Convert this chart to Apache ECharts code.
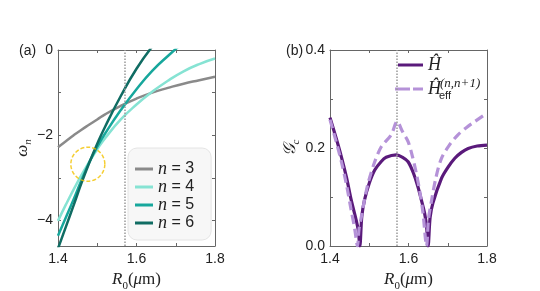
<!DOCTYPE html>
<html>
<head>
<meta charset="utf-8">
<script src="https://cdn.jsdelivr.net/npm/echarts@6/dist/echarts.min.js"></script>
<style>html,body{margin:0;padding:0;background:#fff;}#c{width:540px;height:291px;}</style>
</head>
<body>
<div id="c"></div>
<script>
// ---- data (a) ----
const R_a = [1.40, 1.42, 1.44, 1.46, 1.48, 1.50, 1.52, 1.56, 1.60, 1.64, 1.68, 1.72, 1.76, 1.80];
const w_n3 = [-2.28, -2.14, -2.00, -1.87, -1.75, -1.63, -1.51, -1.31, -1.14, -1.00, -0.89, -0.79, -0.71, -0.63];
const w_n4 = [-4.01, -3.63, -3.27, -2.93, -2.62, -2.33, -2.07, -1.63, -1.28, -0.98, -0.72, -0.50, -0.33, -0.20];
const w_n5 = [-4.36, -3.93, -3.50, -3.05, -2.63, -2.27, -1.96, -1.41, -0.92, -0.49, -0.14, 0.18, null, null];
const w_n6 = [-4.66, -4.15, -3.64, -3.12, -2.64, -2.20, -1.80, -1.08, -0.44, 0.08, null, null, null, null];
const circleCenter = [1.476, -2.68];
const R_mark = 1.57;
// ---- data (b) ----
const R_H = [1.400, 1.415, 1.429, 1.442, 1.454, 1.466, 1.472, 1.476, 1.481, 1.488, 1.500, 1.514, 1.530, 1.543, 1.569, 1.585, 1.599, 1.612, 1.624, 1.634, 1.641, 1.646, 1.650, 1.655, 1.662, 1.684, 1.700, 1.718, 1.735, 1.752, 1.775, 1.800];
const G_H = [0.262, 0.222, 0.182, 0.140, 0.094, 0.055, 0.032, 0.000, 0.060, 0.094, 0.128, 0.155, 0.172, 0.181, 0.186, 0.181, 0.172, 0.150, 0.121, 0.090, 0.067, 0.040, 0.000, 0.058, 0.087, 0.138, 0.160, 0.179, 0.191, 0.199, 0.204, 0.206];
const R_E = [1.400, 1.415, 1.429, 1.442, 1.454, 1.463, 1.470, 1.474, 1.480, 1.488, 1.497, 1.514, 1.531, 1.556, 1.571, 1.585, 1.599, 1.610, 1.620, 1.629, 1.637, 1.646, 1.651, 1.659, 1.670, 1.684, 1.705, 1.726, 1.748, 1.769, 1.800];
const G_E = [0.258, 0.215, 0.172, 0.125, 0.073, 0.035, 0.000, 0.035, 0.060, 0.095, 0.128, 0.172, 0.203, 0.227, 0.254, 0.233, 0.213, 0.183, 0.148, 0.110, 0.067, 0.000, 0.055, 0.094, 0.140, 0.179, 0.207, 0.227, 0.242, 0.254, 0.271];
const xTicksShown = [1.4, 1.6, 1.8];

function pairs(xs, ys) { const o = []; for (let i = 0; i < xs.length; i++) if (ys[i] !== null) o.push([xs[i], ys[i]]); return o; }
const minus = v => (v < 0 ? '\u2212' + Math.abs(v) : String(v));
const xFmt = v => xTicksShown.some(t => Math.abs(t - v) < 1e-6) ? v.toFixed(1) : '';
const AX = '#666';
const SANS = 'Liberation Sans, Arial, sans-serif';
const SERIF = 'Liberation Serif, DejaVu Serif, serif';
const lblStyle = { color: '#222', fontSize: 14, fontFamily: SANS };
const serifI = { fontFamily: SERIF, fontStyle: 'italic', fontSize: 17, color: '#222' };
const serifN = { fontFamily: SERIF, fontSize: 17, color: '#222' };
const subS = { fontFamily: SERIF, fontSize: 11, color: '#222', verticalAlign: 'bottom', lineHeight: 22 };

function xAx(grid, bottom) {
  return {
    type: 'value', gridIndex: grid, position: bottom ? 'bottom' : 'top', min: 1.4, max: 1.8, interval: 0.1,
    axisLine: { show: true, onZero: false, lineStyle: { color: AX, width: 1 } },
    axisTick: { show: true, inside: true, length: 3, lineStyle: { color: AX } },
    axisLabel: { show: bottom, formatter: xFmt, margin: 6, ...lblStyle },
    splitLine: { show: false },
    name: bottom ? '{i|R}{s|0}{n|(}{i|μ}{n|m)}' : '', nameLocation: 'middle', nameGap: 18,
    nameTextStyle: { rich: { i: serifI, n: serifN, s: { ...subS, lineHeight: 24 } } }
  };
}
function yAx(grid, left, min, max, opts) {
  return Object.assign({
    type: 'value', gridIndex: grid, position: left ? 'left' : 'right', min: min, max: max,
    axisLine: { show: true, onZero: false, lineStyle: { color: AX, width: 1 } },
    axisTick: { show: true, inside: true, length: 3, lineStyle: { color: AX } },
    splitLine: { show: false }
  }, opts);
}

const legendRich = {
  i: { fontFamily: SERIF, fontStyle: 'italic', fontSize: 18, color: '#222', lineHeight: 14 },
  t: { fontFamily: SANS, fontSize: 16, color: '#222', lineHeight: 14 }
};

const option = {
  animation: false,
  title: [
    { text: '(a)', left: 14, top: 39, textStyle: { fontSize: 14, fontWeight: 'normal', color: '#222', fontFamily: SANS } },
    { text: '(b)', left: 281, top: 39, textStyle: { fontSize: 14, fontWeight: 'normal', color: '#222', fontFamily: SANS } }
  ],
  grid: [
    { left: 58, top: 50, width: 157, height: 196, containLabel: false, outerBoundsMode: 'none' },
    { left: 330, top: 50, width: 157, height: 196, containLabel: false, outerBoundsMode: 'none' }
  ],
  xAxis: [xAx(0, true), xAx(0, false), xAx(1, true), xAx(1, false)],
  yAxis: [
    yAx(0, true, -4.6, 0, {
      splitNumber: 5,
      axisLabel: { formatter: v => (Math.abs(v - Math.round(v)) < 1e-6 && Math.round(v) % 2 === 0) ? minus(Math.round(v)) : '', margin: 5, ...lblStyle },
      name: '{i|ω}{s|n}', nameLocation: 'middle', nameGap: 24, nameRotate: 90,
      nameTextStyle: { rich: { i: serifI, s: { ...subS, fontStyle: 'italic', lineHeight: 22 } } }
    }),
    yAx(0, false, -4.6, 0, { splitNumber: 5, axisLabel: { show: false } }),
    yAx(1, true, 0, 0.4, {
      interval: 0.1,
      axisLabel: { formatter: v => (Math.round(v * 10) % 2 === 0) ? v.toFixed(1) : '', margin: 5, ...lblStyle },
      name: '{i|𝒢}{s|c}', nameLocation: 'middle', nameGap: 11, nameRotate: 90,
      nameTextStyle: { rich: { i: serifI, s: { ...subS, fontStyle: 'italic', lineHeight: 22 } } }
    }),
    yAx(1, false, 0, 0.4, { interval: 0.1, axisLabel: { show: false } })
  ],
  legend: [
    {
      data: ['n3', 'n4', 'n5', 'n6'], orient: 'vertical', left: 128, top: 148,
      padding: [12, 17, 8, 7], itemGap: 0, itemWidth: 18, itemHeight: 3, icon: 'rect',
      backgroundColor: '#f7f7f7', borderColor: '#e4e4e4', borderWidth: 1, borderRadius: 9,
      formatter: name => '{i|n}{t| = ' + name.slice(1) + '}',
      textStyle: { rich: legendRich, lineHeight: 14 }
    },
    {
      data: ['H'], orient: 'vertical', left: 398, top: 56, itemWidth: 25, itemHeight: 3, icon: 'rect', padding: 0,
      formatter: () => '{h|Ĥ}',
      textStyle: { rich: { h: { ...serifI, fontSize: 18, lineHeight: 22 } } }
    },
    {
      data: ['Heff'], orient: 'vertical', left: 395, top: 77, itemWidth: 28, itemHeight: 3, padding: 0,
      icon: 'path://M0,0h15v3h-15z M18,0h10v3h-10z',
      formatter: () => '{h|Ĥ}{sb|eff}{sp|(n,n+1)}',
      textStyle: { rich: {
        h: { ...serifI, fontSize: 18, lineHeight: 24 },
        sb: { fontFamily: SANS, fontSize: 11, color: '#222', verticalAlign: 'bottom', lineHeight: 24, padding: [0, 0, 0, -2] },
        sp: { fontFamily: SERIF, fontStyle: 'italic', fontSize: 13, color: '#222', verticalAlign: 'top', lineHeight: 24, padding: [0, 0, 0, -11] }
      } }
    }
  ],
  series: [
    { name: 'n3', type: 'line', xAxisIndex: 0, yAxisIndex: 0, data: pairs(R_a, w_n3), smooth: true, symbol: 'none', lineStyle: { color: '#8a8a8a', width: 2.5 }, itemStyle: { color: '#8a8a8a' },
      markLine: { silent: true, symbol: 'none', label: { show: false }, lineStyle: { color: '#999', width: 1.5, type: 'dotted' }, data: [{ xAxis: R_mark }] } },
    { name: 'n4', type: 'line', xAxisIndex: 0, yAxisIndex: 0, data: pairs(R_a, w_n4), smooth: true, symbol: 'none', lineStyle: { color: '#86e3d3', width: 2.5 }, itemStyle: { color: '#86e3d3' } },
    { name: 'n5', type: 'line', xAxisIndex: 0, yAxisIndex: 0, data: pairs(R_a, w_n5), smooth: true, symbol: 'none', lineStyle: { color: '#17a79c', width: 2.5 }, itemStyle: { color: '#17a79c' } },
    { name: 'n6', type: 'line', xAxisIndex: 0, yAxisIndex: 0, data: pairs(R_a, w_n6), smooth: true, symbol: 'none', lineStyle: { color: '#106c63', width: 2.5 }, itemStyle: { color: '#106c63' } },
    { name: 'circle', type: 'scatter', xAxisIndex: 0, yAxisIndex: 0, data: [circleCenter], symbol: 'circle', symbolSize: 34, silent: true,
      itemStyle: { color: 'rgba(0,0,0,0)', borderColor: '#f2c200', borderWidth: 1.5, borderType: [4, 2] }, z: 5 },
    { name: 'H', type: 'line', xAxisIndex: 2, yAxisIndex: 2, data: pairs(R_H, G_H), smooth: 0.3, symbol: 'none', lineStyle: { color: '#5a1a7b', width: 3.2 }, itemStyle: { color: '#5a1a7b' },
      markLine: { silent: true, symbol: 'none', label: { show: false }, lineStyle: { color: '#999', width: 1.5, type: 'dotted' }, data: [{ xAxis: R_mark }] } },
    { name: 'Heff', type: 'line', xAxisIndex: 2, yAxisIndex: 2, data: pairs(R_E, G_E), smooth: 0.3, symbol: 'none', lineStyle: { color: '#b592d8', width: 3.2, type: [9, 5] }, itemStyle: { color: '#b592d8' } }
  ]
};
const chart = echarts.init(document.getElementById('c'), null, { renderer: 'canvas' });
chart.setOption(option);
</script>
</body>
</html>
